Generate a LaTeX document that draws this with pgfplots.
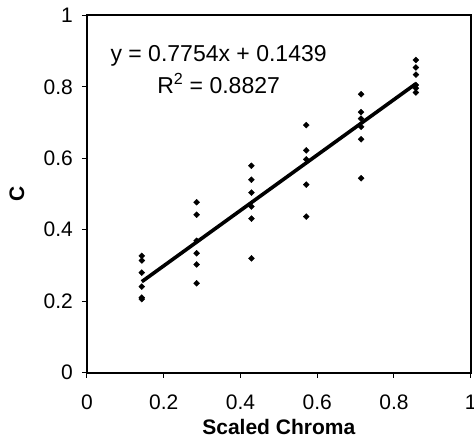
\documentclass[border=0pt]{standalone}
\usepackage{fontspec}
\setmainfont{Liberation Sans}
\usepackage{pgfplots}
\pgfplotsset{compat=1.18}

\begin{document}
\begin{tikzpicture}
\begin{axis}[
    at={(0,0)}, anchor=south west,
    scale only axis,
    width=383.7bp, height=357.4bp,
    xmin=0, xmax=1, ymin=0, ymax=1,
    xtick={0,0.2,...,1}, ytick={0,0.2,...,1},
    axis line style={line width=1.6bp},
    tick style={line width=1bp, black},
    tick align=outside, major tick length=5bp,
    xtick pos=bottom, ytick pos=left,
    /pgf/number format/assume math mode=true,
    xticklabel style={font=\fontsize{21bp}{25bp}\selectfont, anchor=north, inner sep=0pt, yshift=-17bp},
    yticklabel style={font=\fontsize{21bp}{25bp}\selectfont, anchor=east, inner sep=0pt, xshift=-9bp},
    xlabel={\textbf{Scaled Chroma}},
    ylabel={\textbf{C}},
    label style={font=\fontsize{21bp}{25bp}\selectfont},
    xlabel style={at={(axis description cs:0.5,0)}, anchor=center, yshift=-54.5bp},
    ylabel style={at={(axis description cs:0,0.5)}, anchor=center, yshift=70bp},
    clip=false,
  ]
  % trend line from the fitted equation, across the data range
  \addplot[black, line width=3.6bp] coordinates {(0.142857,0.2547) (0.857143,0.8085)};
  \addplot[only marks, mark=square*, mark size=2.1bp,
           mark options={rotate=45, fill=black, draw=black}] coordinates {
    (0.142857,0.327) (0.142857,0.314) (0.142857,0.280) (0.142857,0.241) (0.142857,0.210) (0.142857,0.206)
    (0.285714,0.477) (0.285714,0.442) (0.285714,0.369) (0.285714,0.334) (0.285714,0.303) (0.285714,0.250)
    (0.428571,0.579) (0.428571,0.540) (0.428571,0.504) (0.428571,0.465) (0.428571,0.431) (0.428571,0.320)
    (0.571429,0.693) (0.571429,0.622) (0.571429,0.597) (0.571429,0.526) (0.571429,0.437)
    (0.714286,0.779) (0.714286,0.729) (0.714286,0.711) (0.714286,0.688) (0.714286,0.653) (0.714286,0.544)
    (0.857143,0.875) (0.857143,0.854) (0.857143,0.834) (0.857143,0.805) (0.857143,0.796) (0.857143,0.784)
  };
  \node[font=\fontsize{23bp}{32bp}\selectfont, align=center] at (axis cs:0.343,0.847)
    {y = 0.7754x + 0.1439\\R\textsuperscript{2} = 0.8827};
\end{axis}
\pgfresetboundingbox
\path[use as bounding box] (-87bp,-68.3bp) rectangle (387bp,372.7bp);
\end{tikzpicture}
\end{document}
